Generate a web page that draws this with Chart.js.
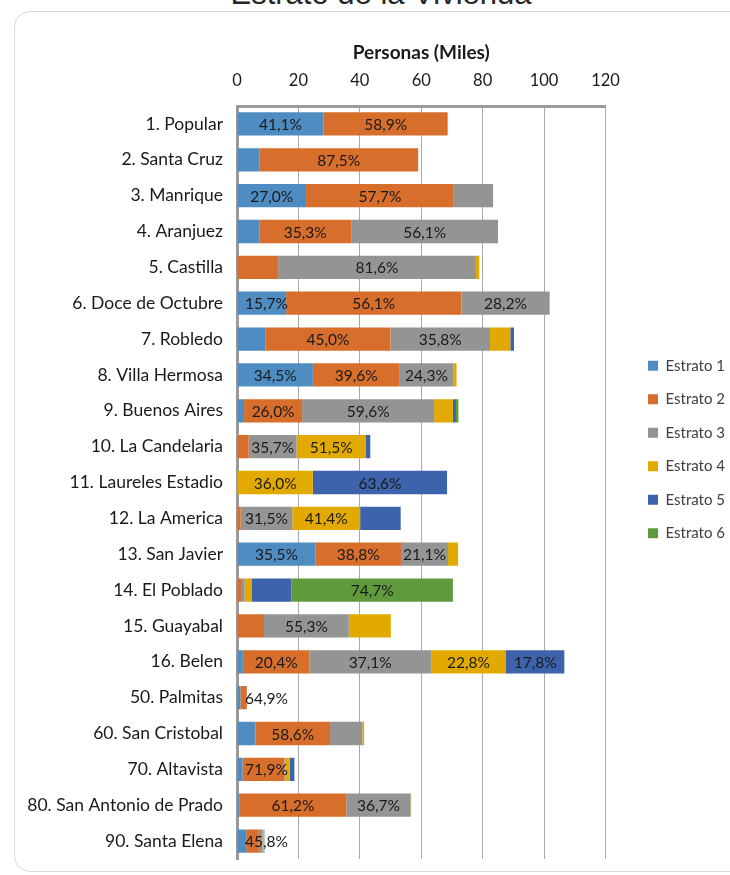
<!DOCTYPE html>
<html>
<head>
<meta charset="utf-8">
<script src="https://cdn.jsdelivr.net/npm/chart.js@4.4.1/dist/chart.umd.min.js"></script>
<style>
  html, body { margin: 0; padding: 0; background: #fff; overflow: hidden; }
  body { width: 730px; height: 875px; position: relative; }
  #titulo {
    position: absolute; left: 0; top: -22px; width: 762px; text-align: center;
    font: 31px/32px "Liberation Sans", Arial, sans-serif; color: #262626; white-space: nowrap;
  }
  #marco {
    position: absolute; left: 14px; top: 11px; width: 760px; height: 859px;
    border: 1px solid #dcdcdc; border-radius: 16px;
  }
  #myChart { position: absolute; left: 0; top: 0; }
</style>
</head>
<body>
<div id="titulo">Estrato de la Vivienda</div>
<div id="marco"></div>
<canvas id="myChart" width="745" height="875"></canvas>
<script>
// personas por estrato, en miles
const distritos = ['1. Popular', '2. Santa Cruz', '3. Manrique', '4. Aranjuez', '5. Castilla',
    '6. Doce de Octubre', '7. Robledo', '8. Villa Hermosa', '9. Buenos Aires', '10. La Candelaria',
    '11. Laureles Estadio', '12. La America', '13. San Javier', '14. El Poblado', '15. Guayabal',
    '16. Belen', '50. Palmitas', '60. San Cristobal', '70. Altavista', '80. San Antonio de Prado',
    '90. Santa Elena']
const estratos = ['Estrato 1', 'Estrato 2', 'Estrato 3', 'Estrato 4', 'Estrato 5', 'Estrato 6']
const colores = ['#4f8cc2', '#d76e2c', '#949494', '#e2aa00', '#3d63ad', '#5f9a3c']

const estrato1 = [28.2, 7.3, 22.5, 7.3, 0, 16.0, 9.2, 24.7, 2.3, 0, 0, 0, 25.5, 0, 0, 1.9, 1.1, 6.0, 1.8, 0.9, 3.0]
const estrato2 = [40.4, 51.7, 48.1, 29.9, 13.4, 57.1, 40.8, 28.3, 18.9, 3.8, 0, 1.2, 27.9, 1.3, 8.8, 21.7, 2.1, 24.3, 13.6, 34.7, 4.1]
const estrato3 = [0, 0, 12.8, 47.8, 64.4, 28.7, 32.4, 17.4, 43.0, 15.6, 0, 16.8, 15.3, 1.2, 27.6, 39.6, 0, 10.5, 0.4, 20.9, 1.2]
const estrato4 = [0, 0, 0, 0, 1.1, 0, 6.6, 1.1, 6.1, 22.6, 24.7, 22.1, 3.3, 2.2, 13.7, 24.4, 0, 0.6, 1.4, 0.2, 0.4]
const estrato5 = [0, 0, 0, 0, 0, 0, 1.2, 0, 1.0, 1.4, 43.7, 13.2, 0, 13.0, 0, 19.0, 0, 0, 1.5, 0, 0.2]
const estrato6 = [0, 0, 0, 0, 0, 0, 0, 0, 0.8, 0, 0, 0, 0, 52.6, 0, 0, 0, 0, 0, 0, 0]

// etiquetas de porcentaje que se ven en cada serie (null = sin etiqueta)
const pct1 = ['41,1%', null, '27,0%', null, null, '15,7%', null, '34,5%', null, null, null, null, '35,5%', null, null, null, null, null, null, null, null]
const pct2 = ['58,9%', '87,5%', '57,7%', '35,3%', null, '56,1%', '45,0%', '39,6%', '26,0%', null, null, null, '38,8%', null, null, '20,4%', '64,9%', '58,6%', '71,9%', '61,2%', '45,8%']
const pct3 = [null, null, null, '56,1%', '81,6%', '28,2%', '35,8%', '24,3%', '59,6%', '35,7%', null, '31,5%', '21,1%', null, '55,3%', '37,1%', null, null, null, '36,7%', null]
const pct4 = [null, null, null, null, null, null, null, null, null, '51,5%', '36,0%', '41,4%', null, null, null, '22,8%', null, null, null, null, null]
const pct5 = [null, null, null, null, null, null, null, null, null, null, '63,6%', null, null, null, null, '17,8%', null, null, null, null, null]
const pct6 = [null, null, null, null, null, null, null, null, null, null, null, null, null, '74,7%', null, null, null, null, null, null, null]

const ticksX = [0, 20, 40, 60, 80, 100, 120]

const series = [estrato1, estrato2, estrato3, estrato4, estrato5, estrato6]
const porcentajes = [pct1, pct2, pct3, pct4, pct5, pct6]
const fuente = 'Lato, "Open Sans", sans-serif'

const etiquetas = {
    id: 'etiquetas',
    afterDatasetsDraw(chart) {
        const ctx = chart.ctx
        ctx.save()
        ctx.font = '15.5px ' + fuente
        ctx.fillStyle = '#1a1a1a'
        ctx.textAlign = 'left'
        ctx.textBaseline = 'middle'
        chart.data.datasets.forEach((ds, i) => {
            const meta = chart.getDatasetMeta(i)
            porcentajes[i].forEach((txt, j) => {
                if (!txt) return
                const bar = meta.data[j]
                const w = ctx.measureText(txt).width
                let x = (bar.x + bar.base) / 2 - w / 2
                x = Math.max(x, chart.chartArea.left + 8)
                ctx.fillText(txt, x, bar.y + 1)
            })
        })
        ctx.restore()
    }
}

const ctx = document.getElementById('myChart').getContext('2d')
const myChart = new Chart(ctx, {
    type: 'bar',
    data: {
        labels: distritos,
        datasets: series.map((d, i) => ({
            label: estratos[i],
            data: d,
            backgroundColor: colores[i],
            borderWidth: 0,
            barPercentage: 0.65,
            categoryPercentage: 1
        }))
    },
    options: {
        indexAxis: 'y',
        responsive: false,
        animation: false,
        devicePixelRatio: 1,
        layout: { padding: { top: 40, left: 0, right: 10, bottom: 16 } },
        plugins: {
            title: { display: false },
            tooltip: { enabled: false },
            legend: {
                position: 'right',
                labels: {
                    boxWidth: 10,
                    boxHeight: 10,
                    padding: 18.5,
                    color: '#404040',
                    font: { family: fuente, size: 15 }
                }
            }
        },
        scales: {
            x: {
                position: 'top',
                stacked: true,
                min: 0,
                max: 120,
                afterBuildTicks: s => { s.ticks = ticksX.map(v => ({ value: v })) },
                afterFit: s => { s.height = 66 },
                ticks: { color: '#1a1a1a', padding: 15, font: { family: fuente, size: 16.5 } },
                title: {
                    display: true,
                    text: 'Personas (Miles)',
                    color: '#1a1a1a',
                    padding: { top: 1.6, bottom: 0 },
                    font: { family: fuente, size: 19, weight: 'bold' }
                },
                grid: { color: '#a8a8a8', lineWidth: 1, drawTicks: false },
                border: { color: '#9a9a9a', width: 3 }
            },
            y: {
                stacked: true,
                afterFit: s => { s.width = 237; s.paddingTop = 0; s.paddingBottom = 0 },
                ticks: { color: '#1a1a1a', padding: 14, font: { family: fuente, size: 17.5 } },
                grid: { display: false, drawTicks: false },
                border: { color: '#9a9a9a', width: 3 }
            },
            hueco: {
                axis: 'y',
                type: 'linear',
                position: 'right',
                afterFit: s => { s.width = 24 },
                ticks: { display: false },
                grid: { display: false, drawTicks: false },
                border: { display: false }
            }
        }
    },
    plugins: [etiquetas]
})
</script>
</body>
</html>
